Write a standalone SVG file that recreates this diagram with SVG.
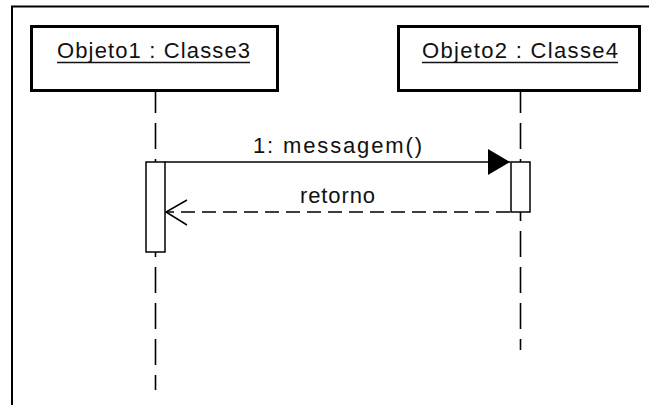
<svg xmlns="http://www.w3.org/2000/svg" width="649" height="405" viewBox="0 0 649 405">
  <style>
    .frame { fill: none; stroke: #000; stroke-width: 2; }
    .obj { fill: #fff; stroke: #000; stroke-width: 3; }
    .life { stroke: #000; stroke-width: 1.6; stroke-dasharray: 26 10; fill: none; }
    .act { fill: #fff; stroke: #000; stroke-width: 1.5; }
    .lbl { font-family: "Liberation Sans", Arial, sans-serif; font-size: 22px; fill: #111; }
    .ul { stroke: #111; stroke-width: 1.3; }
    .msg { stroke: #000; stroke-width: 1.5; fill: none; }
    .ret { stroke: #000; stroke-width: 1.5; fill: none; stroke-dasharray: 14 7; }
  </style>
  <defs>
    <marker id="filled" markerUnits="userSpaceOnUse" markerWidth="24" markerHeight="30" refX="22" refY="14" orient="auto">
      <polygon points="0,1 22,14 0,27" fill="#000"/>
    </marker>
  </defs>
  <rect width="649" height="405" fill="#fff"/>
  <path class="frame" d="M12,405 V6.5 H649"/>

  <g id="obj1">
    <line class="life" x1="155.5" y1="87" x2="155.5" y2="390"/>
    <rect class="obj" x="31.5" y="26.5" width="246" height="64"/>
    <text class="lbl" x="57" y="58" textLength="193" lengthAdjust="spacing">Objeto1 : Classe3</text>
    <line class="ul" x1="57" y1="62.5" x2="250" y2="62.5"/>
    <rect class="act" x="146" y="162" width="19" height="90"/>
  </g>

  <g id="obj2">
    <line class="life" x1="520.5" y1="87" x2="520.5" y2="350"/>
    <rect class="obj" x="398.5" y="26.5" width="241" height="64"/>
    <text class="lbl" x="422" y="58" textLength="196" lengthAdjust="spacing">Objeto2 : Classe4</text>
    <line class="ul" x1="422" y1="62.5" x2="618" y2="62.5"/>
    <rect class="act" x="511" y="162" width="19" height="50"/>
  </g>

  <g id="connectors">
    <g id="msg1">
      <line class="msg" x1="165" y1="162" x2="510" y2="162" marker-end="url(#filled)"/>
      <text class="lbl" x="253" y="153" textLength="169" lengthAdjust="spacing">1: messagem()</text>
    </g>
    <g id="ret1">
      <line class="ret" x1="510" y1="212" x2="166" y2="212"/>
      <polyline points="187,200 166,212 187,225" fill="none" stroke="#000" stroke-width="1.5"/>
      <text class="lbl" x="300" y="203" textLength="75" lengthAdjust="spacing">retorno</text>
    </g>
  </g>
</svg>
